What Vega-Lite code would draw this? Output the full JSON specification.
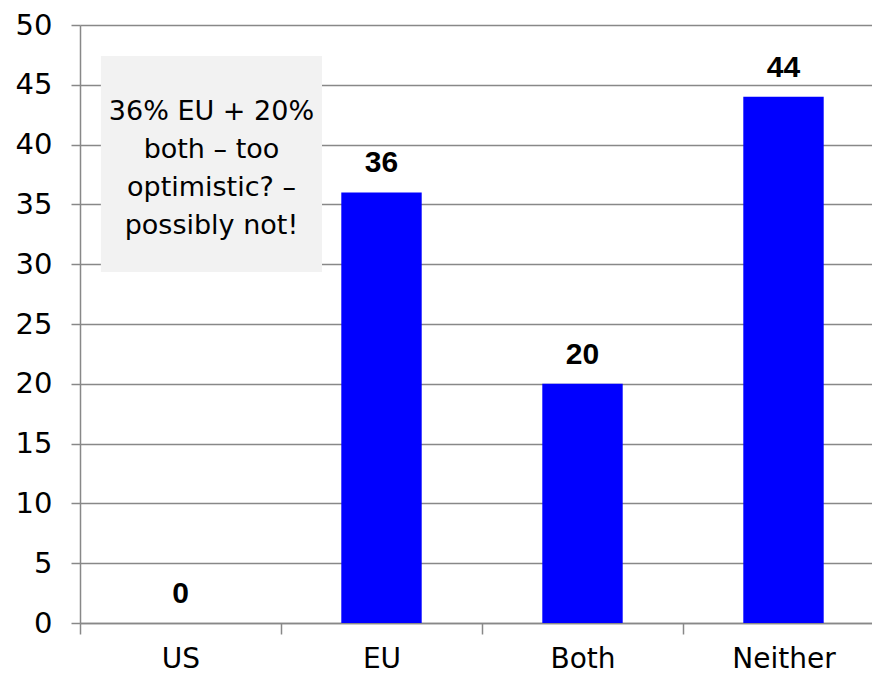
{
  "$schema": "https://vega.github.io/schema/vega-lite/v6.json",
  "width": 792,
  "height": 598,
  "autosize": "none",
  "padding": {"left": 80, "top": 25, "right": 0, "bottom": 54},
  "background": "white",
  "config": {"view": {"stroke": null}, "font": "DejaVu Sans"},
  "layer": [
    {
      "data": {"values": [
        {"region": "US", "pct": 0},
        {"region": "EU", "pct": 36},
        {"region": "Both", "pct": 20},
        {"region": "Neither", "pct": 44}
      ]},
      "encoding": {
        "x": {
          "field": "region", "type": "nominal", "sort": null, "title": null,
          "scale": {"range": [0, 804], "paddingInner": 0, "paddingOuter": 0},
          "axis": {
            "labelAngle": 0, "labelFont": "DejaVu Sans", "labelFontSize": 28, "labelColor": "black",
            "tickBand": "extent", "tickSize": 11, "tickColor": "#888", "tickWidth": 1.5,
            "domainColor": "#888", "domainWidth": 1.5, "labelPadding": 11, "grid": false
          }
        },
        "y": {
          "field": "pct", "type": "quantitative", "title": null,
          "scale": {"domain": [0, 50], "nice": false},
          "axis": {
            "values": [0, 5, 10, 15, 20, 25, 30, 35, 40, 45, 50],
            "labelFont": "DejaVu Sans", "labelFontSize": 29, "labelColor": "black",
            "tickSize": 9, "tickColor": "#888", "tickWidth": 1.5, "labelPadding": 19,
            "grid": true, "gridColor": "#888", "gridWidth": 1.5,
            "domainColor": "#888", "domainWidth": 1.5
          }
        }
      },
      "layer": [
        {"mark": {"type": "bar", "color": "#0000FF", "width": {"band": 0.4}}},
        {
          "mark": {"type": "text", "font": "Liberation Sans", "fontWeight": "bold", "fontSize": 30, "dy": -20, "baseline": "alphabetic", "color": "black"},
          "encoding": {"text": {"field": "pct"}}
        }
      ]
    },
    {
      "data": {"values": [
        {"x1": 0.104, "x2": 1.204, "y1": 29.35, "y2": 47.4, "xc": 0.654, "yt": 42.06, "note": "36% EU + 20%\nboth – too\noptimistic? –\npossibly not!"}
      ]},
      "layer": [
        {
          "mark": {"type": "rect", "color": "#F2F2F2"},
          "encoding": {
            "x": {"field": "x1", "type": "quantitative", "title": null, "scale": {"domain": [0, 4], "range": [0, 804]}, "axis": null},
            "x2": {"field": "x2"},
            "y": {"field": "y1", "type": "quantitative", "title": null},
            "y2": {"field": "y2"}
          }
        },
        {
          "mark": {"type": "text", "font": "DejaVu Sans", "fontSize": 27, "align": "center", "baseline": "alphabetic", "lineBreak": "\n", "lineHeight": 38, "color": "black"},
          "encoding": {
            "x": {"field": "xc", "type": "quantitative", "title": null, "scale": {"domain": [0, 4], "range": [0, 804]}, "axis": null},
            "y": {"field": "yt", "type": "quantitative", "title": null},
            "text": {"field": "note"}
          }
        }
      ]
    }
  ],
  "resolve": {"scale": {"x": "independent"}}
}
